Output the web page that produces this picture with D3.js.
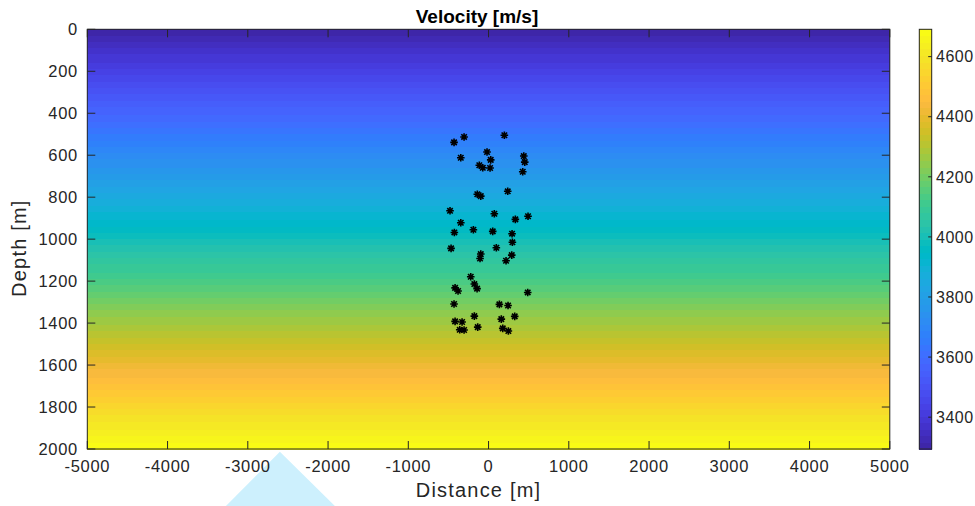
<!DOCTYPE html>
<html>
<head>
<meta charset="utf-8">
<script src="https://cdn.jsdelivr.net/npm/d3@7"></script>
<style>
  html, body { margin: 0; padding: 0; background: #fff; }
  svg { display: block; }
  text { font-family: "Liberation Sans", Arial, Helvetica, sans-serif; fill: #262626; }
</style>
</head>
<body>
<svg id="chart" width="975" height="506"></svg>
<script>
// Axis ticks
const distanceTicks = [-5000, -4000, -3000, -2000, -1000, 0, 1000, 2000, 3000, 4000, 5000];
const depthTicks = [0, 200, 400, 600, 800, 1000, 1200, 1400, 1600, 1800, 2000];
const velocityTicks = [3400, 3600, 3800, 4000, 4200, 4400, 4600];

// Velocity model: linear increase with depth (m/s), and colour limits
const velocityAtTop = 3294;
const velocityAtBottom = 4691;
const modelDepthStep = 10; // m, grid spacing of the model rows

// Event locations (distance m, depth m)
const eventDistance = [
  -430, -305, 197, -346, -19, 27, -115, -72, 19, 439, 451, 426,
  -140, -97, 239, -480, 72, 334, 492, -346, -426, -189, 52, 293,
  297, -467, 97, -97, -106, 289, 218, -222, -177, -143, -417, -380, 488,
  -430, 135, 243, -177, 326, 159, -417, -330, -359, -305, -135, 177, 247
];
const eventDepth = [
  539, 513, 505, 612, 585, 622, 648, 660, 661, 604, 633, 679,
  786, 795, 772, 865, 879, 906, 891, 922, 968, 955, 963, 974,
  1015, 1044, 1041, 1071, 1092, 1076, 1103, 1179, 1214, 1236, 1232, 1247, 1254,
  1309, 1311, 1316, 1367, 1368, 1381, 1392, 1395, 1432, 1433, 1419, 1425, 1438
];

// Parula colormap, 64 entries
const parula = [
  [0.2422,0.1504,0.6603],[0.2504,0.1650,0.7076],[0.2578,0.1818,0.7511],[0.2647,0.1978,0.7952],
  [0.2706,0.2147,0.8364],[0.2751,0.2342,0.8710],[0.2783,0.2559,0.8991],[0.2803,0.2782,0.9221],
  [0.2813,0.3006,0.9414],[0.2810,0.3228,0.9579],[0.2795,0.3447,0.9717],[0.2760,0.3667,0.9829],
  [0.2699,0.3892,0.9906],[0.2602,0.4123,0.9952],[0.2440,0.4358,0.9988],[0.2206,0.4603,0.9973],
  [0.1963,0.4847,0.9892],[0.1834,0.5074,0.9798],[0.1786,0.5289,0.9682],[0.1764,0.5499,0.9520],
  [0.1687,0.5703,0.9359],[0.1540,0.5902,0.9218],[0.1460,0.6091,0.9079],[0.1380,0.6276,0.8973],
  [0.1248,0.6459,0.8883],[0.1113,0.6635,0.8763],[0.0952,0.6798,0.8598],[0.0689,0.6948,0.8394],
  [0.0297,0.7082,0.8163],[0.0036,0.7203,0.7917],[0.0067,0.7312,0.7660],[0.0433,0.7411,0.7394],
  [0.0964,0.7500,0.7120],[0.1408,0.7584,0.6842],[0.1717,0.7670,0.6554],[0.1938,0.7758,0.6251],
  [0.2161,0.7843,0.5923],[0.2470,0.7918,0.5567],[0.2906,0.7973,0.5188],[0.3406,0.8008,0.4789],
  [0.3909,0.8029,0.4354],[0.4456,0.8024,0.3909],[0.5044,0.7993,0.3480],[0.5616,0.7942,0.3045],
  [0.6174,0.7876,0.2612],[0.6720,0.7793,0.2227],[0.7242,0.7698,0.1910],[0.7738,0.7598,0.1646],
  [0.8203,0.7498,0.1535],[0.8634,0.7406,0.1596],[0.9035,0.7330,0.1774],[0.9393,0.7288,0.2100],
  [0.9728,0.7298,0.2394],[0.9956,0.7434,0.2371],[0.9970,0.7659,0.2199],[0.9952,0.7893,0.2028],
  [0.9892,0.8136,0.1885],[0.9786,0.8386,0.1766],[0.9676,0.8639,0.1643],[0.9610,0.8890,0.1537],
  [0.9597,0.9135,0.1423],[0.9628,0.9373,0.1265],[0.9691,0.9606,0.1064],[0.9769,0.9839,0.0805]
].map(c => d3.rgb(c[0] * 255, c[1] * 255, c[2] * 255).formatHex());

const svg = d3.select("#chart");

const plot = { left: 87.3, right: 889.8, top: 29.3, bottom: 449 };
const cbar = { left: 919.3, right: 931.7 };
const axisColor = "#262626";

const x = d3.scaleLinear().domain([-5000, 5000]).range([plot.left, plot.right]);
const y = d3.scaleLinear().domain([0, 2000]).range([plot.top, plot.bottom]);
const velocityOfDepth = d3.scaleLinear().domain([0, 2000]).range([velocityAtTop, velocityAtBottom]);
const color = d3.scaleQuantize().domain([velocityAtTop, velocityAtBottom]).range(parula);
const cy = d3.scaleLinear().domain([velocityAtTop, velocityAtBottom]).range([plot.bottom, plot.top]);

// Source marker below the distance axis
const srcX = x(-2600);
svg.append("path")
  .attr("d", `M${srcX},${plot.bottom + 2.7} L${srcX - 54},${506} L${srcX + 55},${506} Z`)
  .attr("fill", "#cdf0fd");

// Velocity image: one row per model depth cell
const rows = d3.range(0, 2000, modelDepthStep);
svg.append("g").selectAll("rect").data(rows).join("rect")
  .attr("x", plot.left)
  .attr("width", plot.right - plot.left)
  .attr("y", d => y(d))
  .attr("height", d => y(d + modelDepthStep) - y(d) + 0.6)
  .attr("fill", d => color(velocityOfDepth(d + modelDepthStep / 2)))
  .attr("shape-rendering", "crispEdges");

// Events as asterisks
const star = 3.8, diag = star * 0.72;
const asterisk = `M${-star},0H${star}M0,${-star}V${star}M${-diag},${-diag}L${diag},${diag}M${-diag},${diag}L${diag},${-diag}`;
svg.append("g").selectAll("path").data(d3.range(eventDistance.length)).join("path")
  .attr("transform", i => `translate(${x(eventDistance[i])},${y(eventDepth[i])})`)
  .attr("d", asterisk)
  .attr("stroke", "#000")
  .attr("stroke-width", 1.6)
  .attr("fill", "none");

// Axes box and inward ticks on all four sides
const tickLen = 8;
const axes = svg.append("g").attr("stroke", axisColor).attr("stroke-width", 1).attr("fill", "none");
axes.append("rect")
  .attr("x", plot.left).attr("y", plot.top)
  .attr("width", plot.right - plot.left).attr("height", plot.bottom - plot.top);
axes.selectAll(".xt").data(distanceTicks).join("path")
  .attr("d", d => `M${x(d)},${plot.bottom}v${-tickLen}M${x(d)},${plot.top}v${tickLen}`);
axes.selectAll(".yt").data(depthTicks).join("path")
  .attr("d", d => `M${plot.left},${y(d)}h${tickLen}M${plot.right},${y(d)}h${-tickLen}`);

// Tick labels
svg.append("g").selectAll("text").data(distanceTicks).join("text")
  .attr("x", d => x(d)).attr("y", 472)
  .attr("text-anchor", "middle")
  .style("font-size", "16.5px").style("letter-spacing", "0.7px")
  .text(d => d);
svg.append("g").selectAll("text").data(depthTicks).join("text")
  .attr("x", 78).attr("y", d => y(d)).attr("dy", "0.36em")
  .attr("text-anchor", "end")
  .style("font-size", "16.5px").style("letter-spacing", "0.7px")
  .text(d => d);

// Axis titles
svg.append("text")
  .attr("x", x(0) - 10).attr("y", 497)
  .attr("text-anchor", "middle")
  .style("font-size", "20px").style("letter-spacing", "1.2px")
  .text("Distance [m]");
svg.append("text")
  .attr("transform", `translate(26,${(plot.top + plot.bottom) / 2 + 9}) rotate(-90)`)
  .attr("text-anchor", "middle")
  .style("font-size", "20px").style("letter-spacing", "1.2px")
  .text("Depth [m]");
svg.append("text")
  .attr("x", 477).attr("y", 22.5)
  .attr("text-anchor", "middle")
  .style("font-size", "19px").style("font-weight", "bold")
  .style("fill", "#000")
  .text("Velocity [m/s]");

// Colorbar
svg.append("g").selectAll("rect").data(parula).join("rect")
  .attr("x", cbar.left)
  .attr("width", cbar.right - cbar.left)
  .attr("y", (c, i) => cy(velocityAtTop + (i + 1) * (velocityAtBottom - velocityAtTop) / parula.length))
  .attr("height", (plot.bottom - plot.top) / parula.length + 0.5)
  .attr("fill", c => c)
  .attr("shape-rendering", "crispEdges");
const cb = svg.append("g").attr("stroke", axisColor).attr("stroke-width", 1).attr("fill", "none");
cb.append("rect")
  .attr("x", cbar.left).attr("y", plot.top)
  .attr("width", cbar.right - cbar.left).attr("height", plot.bottom - plot.top);
cb.selectAll("path").data(velocityTicks).join("path")
  .attr("d", d => `M${cbar.right},${cy(d)}h-3.5`);
svg.append("g").selectAll("text").data(velocityTicks).join("text")
  .attr("x", 936).attr("y", d => cy(d)).attr("dy", "0.36em")
  .style("font-size", "16px").style("letter-spacing", "0.5px")
  .text(d => d);
</script>
</body>
</html>
